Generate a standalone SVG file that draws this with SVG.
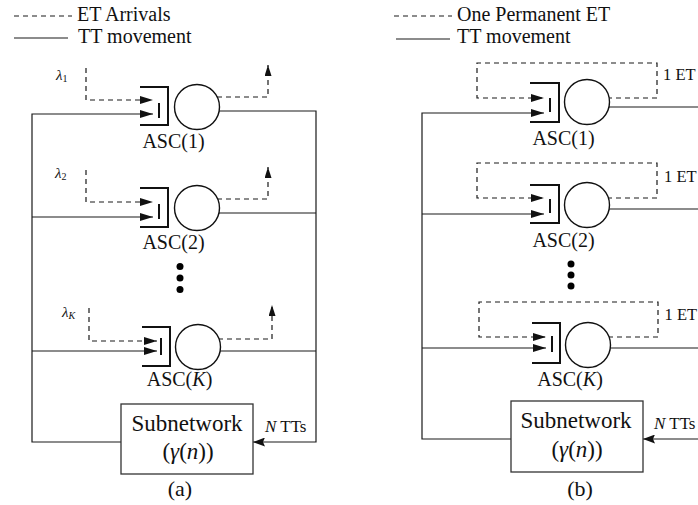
<svg xmlns="http://www.w3.org/2000/svg" width="698" height="505" viewBox="0 0 698 505">
  <defs>
    <marker id="ah" viewBox="0 0 13 8" refX="13" refY="4" markerWidth="13" markerHeight="8" orient="auto" markerUnits="userSpaceOnUse">
      <path d="M0,0 L13,4 L0,8 z" fill="#111"/>
    </marker>
    <marker id="ahs" viewBox="0 0 11 7" refX="11" refY="3.5" markerWidth="11" markerHeight="7" orient="auto" markerUnits="userSpaceOnUse">
      <path d="M0,0 L11,3.5 L0,7 z" fill="#111"/>
    </marker>
    <marker id="ahb" viewBox="0 0 12 9" refX="12" refY="4.5" markerWidth="12" markerHeight="9" orient="auto" markerUnits="userSpaceOnUse">
      <path d="M0,0 L12,4.5 L0,9 L2,4.5 z" fill="#111"/>
    </marker>
  </defs>
  <style>
    text { font-family: "Liberation Serif", "Times New Roman", serif; fill: #111; }
    .lg { font-size: 20px; }
    .asc { font-size: 20px; text-anchor: middle; }
    .sub { font-size: 23px; text-anchor: middle; }
    .cap { font-size: 22px; text-anchor: middle; }
    .sm { font-size: 17px; }
    .et { font-size: 16.5px; }
    .lam { font-size: 15px; font-style: italic; }
    .it { font-style: italic; }
    .solid { fill: none; stroke: #1a1a1a; stroke-width: 1.2; }
    .dash { fill: none; stroke: #1a1a1a; stroke-width: 1.2; stroke-dasharray: 5 4; }
    .brk { fill: none; stroke: #111; stroke-width: 2; }
    .srv { fill: #fff; stroke: #111; stroke-width: 1.4; }
    .box { fill: #fff; stroke: #333; stroke-width: 1.3; }
    .dot { fill: #000; }
  </style>

  <!-- ===================== Panel (a): ET arrivals ===================== -->
  <g id="legend-a">
    <line class="dash" x1="14" y1="16" x2="72" y2="16"/>
    <text class="lg" x="77" y="21">ET Arrivals</text>
    <line class="solid" x1="14" y1="38" x2="68" y2="38"/>
    <text class="lg" x="78" y="43">TT movement</text>
  </g>

  <g id="connectors-a">
    <!-- ET arrivals into each queue -->
    <path class="dash" d="M86,68 V100 H153" marker-end="url(#ah)"/>
    <path class="dash" d="M86,170 V202 H153" marker-end="url(#ah)"/>
    <path class="dash" d="M89,308 V341 H157" marker-end="url(#ah)"/>
    <!-- ET departures -->
    <path class="dash" d="M217,97 H268 V65" marker-end="url(#ahs)"/>
    <path class="dash" d="M217,199 H268 V167" marker-end="url(#ahs)"/>
    <path class="dash" d="M218,339 H272 V305" marker-end="url(#ahs)"/>
    <!-- TT movement: feed bus on the left -->
    <path class="solid" d="M121,442 H32 V114 H153" marker-end="url(#ah)"/>
    <path class="solid" d="M32,217 H153" marker-end="url(#ah)"/>
    <path class="solid" d="M32,351 H157" marker-end="url(#ah)"/>
    <!-- TT movement: return bus on the right -->
    <path class="solid" d="M219,111 H316 V442 H253" marker-end="url(#ahb)"/>
    <path class="solid" d="M219,213 H316"/>
    <path class="solid" d="M220,351 H316"/>
  </g>

  <g id="asc1-a">
    <path class="brk" d="M140,87 H168 V125 H140"/>
    <line class="brk" x1="159" y1="103" x2="159" y2="118"/>
    <circle class="srv" cx="197" cy="107" r="22.5"/>
    <text class="lam" x="56" y="80">λ<tspan font-size="10" font-style="normal" dy="2">1</tspan></text>
    <text class="asc" x="173.5" y="148">ASC(1)</text>
  </g>

  <g id="asc2-a">
    <path class="brk" d="M140,188 H168 V227 H140"/>
    <line class="brk" x1="159" y1="204" x2="159" y2="219"/>
    <circle class="srv" cx="197" cy="208" r="22.5"/>
    <text class="lam" x="55" y="178">λ<tspan font-size="10" font-style="normal" dy="2">2</tspan></text>
    <text class="asc" x="173.5" y="249">ASC(2)</text>
  </g>

  <g id="ellipsis-a">
    <circle class="dot" cx="180" cy="266.5" r="3.5"/>
    <circle class="dot" cx="180" cy="278" r="3.5"/>
    <circle class="dot" cx="180" cy="289.5" r="3.5"/>
  </g>

  <g id="ascK-a">
    <path class="brk" d="M142,327 H170 V366 H142"/>
    <line class="brk" x1="161" y1="338" x2="161" y2="355"/>
    <circle class="srv" cx="198" cy="347" r="22.5"/>
    <text class="lam" x="62" y="317">λ<tspan font-size="10" dy="2">K</tspan></text>
    <text class="asc" x="179.5" y="386">ASC(<tspan class="it">K</tspan>)</text>
  </g>

  <g id="subnet-a">
    <rect class="box" x="121" y="404" width="132" height="70"/>
    <text class="sub" x="187" y="431">Subnetwork</text>
    <text class="sub" x="188" y="459">(<tspan class="it">γ</tspan>(<tspan class="it">n</tspan>))</text>
    <text class="sm" x="265" y="432"><tspan class="it">N</tspan> TTs</text>
  </g>

  <text class="cap" x="180" y="496">(a)</text>

  <!-- ===================== Panel (b): one permanent ET ===================== -->
  <g id="legend-b">
    <line class="dash" x1="394" y1="16" x2="452" y2="16"/>
    <text class="lg" x="457" y="21">One Permanent ET</text>
    <line class="solid" x1="396" y1="39" x2="450" y2="39"/>
    <text class="lg" x="457" y="43">TT movement</text>
  </g>

  <g id="connectors-b">
    <!-- permanent ET loops -->
    <path class="dash" d="M607,98 H657 V63 H477 V98 H544" marker-end="url(#ah)"/>
    <path class="dash" d="M607,198 H657 V163 H477 V198 H544" marker-end="url(#ah)"/>
    <path class="dash" d="M608,337 H658 V302 H479 V337 H546" marker-end="url(#ah)"/>
    <!-- TT movement: feed bus -->
    <path class="solid" d="M511,439 H422 V113 H544" marker-end="url(#ah)"/>
    <path class="solid" d="M422,214 H544" marker-end="url(#ah)"/>
    <path class="solid" d="M422,348 H546" marker-end="url(#ah)"/>
    <!-- TT movement: return bus -->
    <path class="solid" d="M609,107 H698"/>
    <path class="solid" d="M609,209 H698"/>
    <path class="solid" d="M610,348 H698"/>
    <path class="solid" d="M698,439 H643" marker-end="url(#ahb)"/>
  </g>

  <g id="asc1-b">
    <path class="brk" d="M530,83 H559 V122 H530"/>
    <line class="brk" x1="550" y1="98" x2="550" y2="112"/>
    <circle class="srv" cx="587" cy="102" r="22.5"/>
    <text class="et" x="663" y="80">1 ET</text>
    <text class="asc" x="563.5" y="145">ASC(1)</text>
  </g>

  <g id="asc2-b">
    <path class="brk" d="M530,185 H559 V223 H530"/>
    <line class="brk" x1="550" y1="199" x2="550" y2="213"/>
    <circle class="srv" cx="587" cy="205" r="22.5"/>
    <text class="et" x="664" y="182">1 ET</text>
    <text class="asc" x="563.5" y="247">ASC(2)</text>
  </g>

  <g id="ellipsis-b">
    <circle class="dot" cx="571" cy="264" r="3.5"/>
    <circle class="dot" cx="571" cy="275" r="3.5"/>
    <circle class="dot" cx="571" cy="286" r="3.5"/>
  </g>

  <g id="ascK-b">
    <path class="brk" d="M532,323 H560 V363 H532"/>
    <line class="brk" x1="552" y1="336" x2="552" y2="352"/>
    <circle class="srv" cx="588" cy="345" r="22.5"/>
    <text class="et" x="664.5" y="320">1 ET</text>
    <text class="asc" x="570" y="386">ASC(<tspan class="it">K</tspan>)</text>
  </g>

  <g id="subnet-b">
    <rect class="box" x="511" y="401" width="132" height="71"/>
    <text class="sub" x="576" y="428">Subnetwork</text>
    <text class="sub" x="577" y="457">(<tspan class="it">γ</tspan>(<tspan class="it">n</tspan>))</text>
    <text class="sm" x="654" y="429"><tspan class="it">N</tspan> TTs</text>
  </g>

  <text class="cap" x="580" y="496">(b)</text>
</svg>
